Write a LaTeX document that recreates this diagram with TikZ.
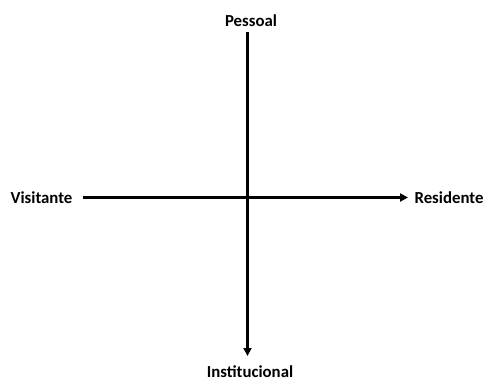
\documentclass[tikz,border=0pt]{standalone}
\usepackage{fontspec}
\setmainfont{Carlito}
\usetikzlibrary{arrows.meta}

\begin{document}
\begin{tikzpicture}[
    x=1pt,y=-1pt,
    font=\fontsize{16.8}{18}\selectfont\bfseries,
    lbl/.style={inner sep=0pt,align=center},
    axis/.style={line width=2.4pt},
    arr/.style={axis,-{Triangle[length=8pt,width=8pt]}}
  ]
    \useasboundingbox (0,0) rectangle (490,383);

    \node[lbl] (pes) at (251,21) {Pessoal};
    \node[lbl] (ins) at (250,372) {Institucional};
    \node[lbl] (vis) at (41.5,198) {Visitante};
    \node[lbl] (res) at (449,198) {Residente};

    \coordinate (top) at (247.5,32);
    \coordinate (bot) at (247.5,356);
    \coordinate (lft) at (83,197.5);
    \coordinate (rgt) at (408,197.5);

    \draw[arr] (top) -- (bot);
    \draw[arr] (lft) -- (rgt);
  \end{tikzpicture}
\end{document}
